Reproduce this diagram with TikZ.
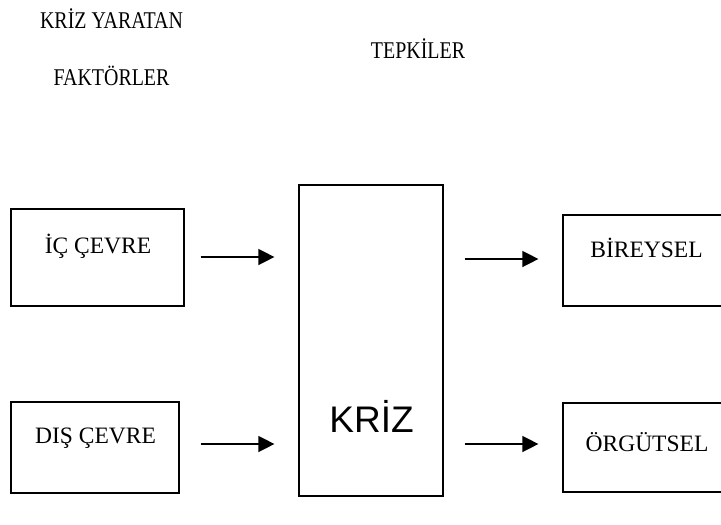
\documentclass[tikz,border=0pt]{standalone}
\usepackage{fontspec}
\setmainfont{Liberation Serif}
\newfontfamily\headfont[FakeStretch=0.83]{Liberation Serif}
\newfontfamily\bigfont{Liberation Sans}
\usetikzlibrary{arrows.meta,calc}

\begin{document}
\begin{tikzpicture}[x=1pt, y=-1pt,
    box/.style={draw, line width=1.2pt, inner sep=0pt},
    lbl/.style={anchor=base, inner sep=0pt, font=\fontsize{23.5}{28}\selectfont},
    head/.style={anchor=base, inner sep=0pt, font=\headfont\fontsize{24}{28}\selectfont},
    arr/.style={line width=1.4pt, -{Triangle[length=16pt, width=16pt]}}]

    % Fix the page size
    \useasboundingbox (0,0) rectangle (721,525);
    \clip (0,0) rectangle (721,525);

    % Headings
    \node at (111.5,28) [head] (h1) {KRİZ YARATAN};
    \node at (111.5,85) [head] (h2) {FAKTÖRLER};
    \node at (418,58) [head] (h3) {TEPKİLER};

    % Draw the boxes
    \node[box, minimum width=173pt, minimum height=97pt] (ic) at (97.5,257.5) {};
    \node[box, minimum width=168pt, minimum height=91pt] (dis) at (95,447.5) {};
    \node[box, minimum width=144pt, minimum height=311pt] (kriz) at (371,340.5) {};
    \node[box, minimum width=162pt, minimum height=91pt] (bir) at (644,260.5) {};
    \node[box, minimum width=162pt, minimum height=89pt] (org) at (644,447.5) {};

    % Label the boxes
    \node at (98,253) [lbl] (ictext) {İÇ ÇEVRE};
    \node at (95.5,443) [lbl] (distext) {DIŞ ÇEVRE};
    \node at (371.5,432) [anchor=base, inner sep=0pt, font=\bigfont\fontsize{37}{44}\selectfont] (kriztext) {KRİZ};
    \node at (646.5,257) [lbl] (birtext) {BİREYSEL};
    \node at (647,451) [lbl] (orgtext) {ÖRGÜTSEL};

    % Draw the arrows
    \draw[arr, shorten <=16pt, shorten >=24pt] ([yshift=0.5pt]ic.east) -- ([yshift=0.5pt]ic.east -| kriz.west);
    \draw[arr, shorten <=21pt, shorten >=24pt] ([yshift=3.5pt]dis.east) -- ([yshift=3.5pt]dis.east -| kriz.west);
    \draw[arr, shorten <=21pt, shorten >=24pt] ([yshift=1.5pt]kriz.east |- bir.west) -- ([yshift=1.5pt]bir.west);
    \draw[arr, shorten <=21pt, shorten >=24pt] ([yshift=3.5pt]kriz.east |- org.west) -- ([yshift=3.5pt]org.west);

\end{tikzpicture}
\end{document}
